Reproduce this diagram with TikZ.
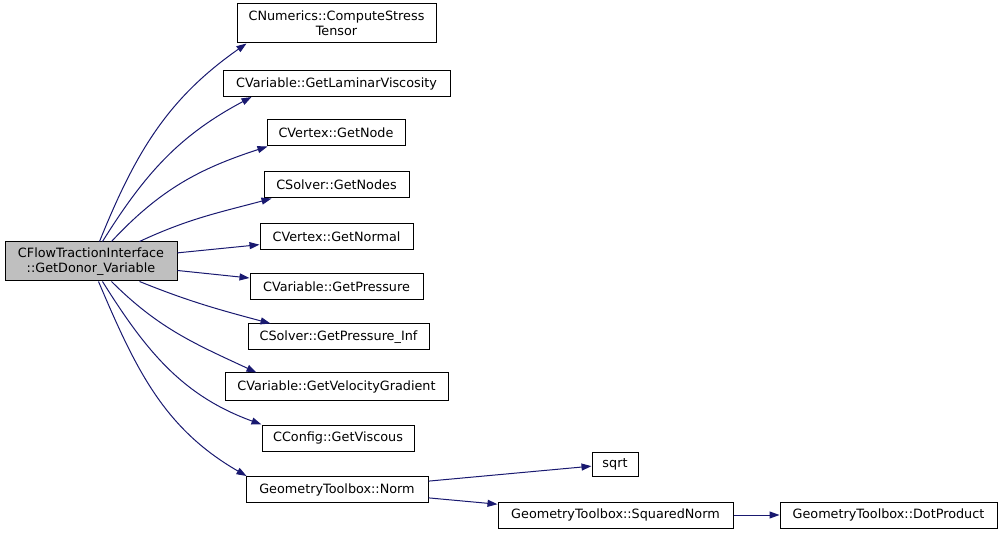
\documentclass[tikz,border=0pt]{standalone}
\usepackage{fontspec}
\setmainfont{DejaVu Sans}
\usetikzlibrary{arrows.meta}
\definecolor{edgeblue}{HTML}{191970}
\definecolor{rootgray}{HTML}{BFBFBF}

\begin{document}
\begin{tikzpicture}[x=1pt,y=-1pt,every node/.style={font=\fontsize{12.8}{15}\selectfont},
  fn/.style={draw,line width=1pt,inner sep=0pt,minimum height=26pt,align=center},
  ln/.style={edgeblue,line width=1pt,-{Triangle[length=10pt,width=7pt]}}]
\useasboundingbox (0,0) rectangle (1004,534);
%------------- caller
\node[fn,fill=rootgray,minimum width=172pt,minimum height=39pt] (root) at (91,261.5) {CFlowTractionInterface\\::GetDonor\_Variable};
%------------- callees
\node[fn,minimum width=199pt,minimum height=39pt] (stress) at (336.5,23.5) {CNumerics::ComputeStress\\Tensor};
\node[fn,minimum width=227pt] (lamvisc) at (336.5,83.5) {CVariable::GetLaminarViscosity};
\node[fn,minimum width=138pt] (getnode) at (336,133) {CVertex::GetNode};
\node[fn,minimum width=145pt] (getnodes) at (336.5,185) {CSolver::GetNodes};
\node[fn,minimum width=153pt] (normal) at (336.5,237) {CVertex::GetNormal};
\node[fn,minimum width=173pt] (press) at (336.5,287) {CVariable::GetPressure};
\node[fn,minimum width=181pt] (pinf) at (338.5,337) {CSolver::GetPressure\_Inf};
\node[fn,minimum width=223pt,minimum height=28pt] (velgrad) at (336.5,387) {CVariable::GetVelocityGradient};
\node[fn,minimum width=152pt] (viscous) at (338,438) {CConfig::GetViscous};
\node[fn,minimum width=182pt] (norm) at (337,489.5) {GeometryToolbox::Norm};
\node[fn,minimum width=46pt,minimum height=24pt] (sqrt) at (615,464) {sqrt};
\node[fn,minimum width=235pt] (sqnorm) at (615.5,515) {GeometryToolbox::SquaredNorm};
\node[fn,minimum width=217pt] (dot) at (888.5,515) {GeometryToolbox::DotProduct};
%------------- calls (upper fan, then lower fan)
\draw[ln] ([xshift=95pt]root.north west) to[out=68,in=215] ([xshift=10pt]stress.south west);
\draw[ln] ([xshift=98pt]root.north west) to[out=58,in=208] ([xshift=29pt]lamvisc.south west);
\draw[ln] ([xshift=107pt]root.north west) to[out=47,in=198] ([xshift=1pt]getnode.south west);
\draw[ln] ([xshift=135pt]root.north west) to[out=25,in=195] ([xshift=8pt]getnodes.south west);
\draw[ln] (root) -- (normal);
\draw[ln] (root) -- (press);
\draw[ln] ([xshift=135pt]root.south west) to[out=-22,in=165] ([xshift=23pt]pinf.north west);
\draw[ln] ([xshift=107pt]root.south west) to[out=-45,in=155] ([xshift=32pt]velgrad.north west);
\draw[ln] ([xshift=98pt]root.south west) to[out=-58,in=160] (viscous.north west);
\draw[ln] ([xshift=94pt]root.south west) to[out=-67,in=150] ([xshift=1pt]norm.north west);
\draw[ln] (norm) -- (sqrt);
\draw[ln] (norm) -- (sqnorm);
\draw[ln] (sqnorm) -- (dot);
\end{tikzpicture}
\end{document}
